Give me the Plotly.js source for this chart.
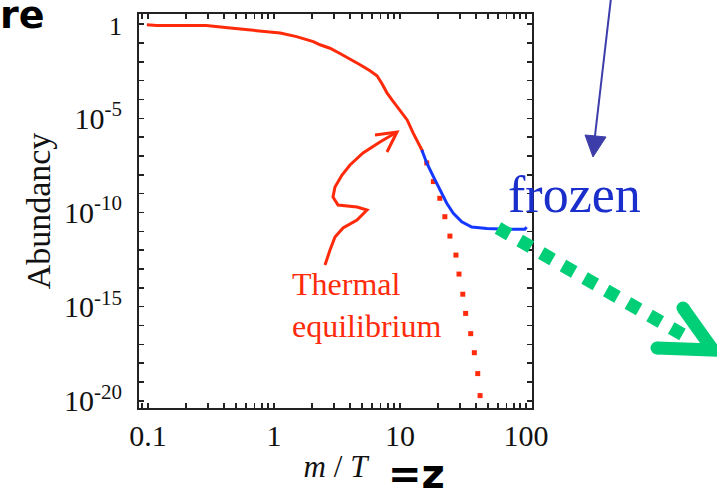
<!DOCTYPE html>
<html>
<head>
<meta charset="utf-8">
<script src="https://cdn.plot.ly/plotly-3.0.1.min.js"></script>
<style>html,body{margin:0;padding:0;background:#fff;}#chart{width:717px;height:488px;}</style>
</head>
<body>
<div id="chart"></div>
<script>
// ---- data ----
const eqX = [0.098, 0.117, 0.18, 0.29, 0.45, 0.73, 1.12, 1.51, 2.05, 2.32, 2.78, 3.34, 4.01, 4.82, 5.78, 6.57, 7.20, 7.88, 8.64, 9.47, 10.4, 11.4, 12.7, 14.4, 15.2];
const eqY = [0.94, 0.86, 0.86, 0.86, 0.63, 0.45, 0.34, 0.22, 0.12, 0.081, 0.053, 0.028, 0.0146, 7.05e-3, 3.37e-3, 1.82e-3, 6.84e-4, 2.27e-4, 9.6e-5, 4.1e-5, 1.85e-5, 8.3e-6, 1.69e-6, 3.05e-7, 1.65e-7];

const frozenX = [14.9, 16.3, 18.4, 20.7, 23.5, 26.5, 30.9, 37.1, 48.8, 70.3, 98, 101];
const frozenY = [2.1e-7, 4.3e-8, 8.0e-9, 1.6e-9, 3.1e-10, 9.1e-11, 3.2e-11, 1.7e-11, 1.4e-11, 1.3e-11, 1.3e-11, 1.7e-11];

const dotX = [16.3, 18.4, 20.7, 22.7, 24.9, 27.8, 29.4, 31.5, 33.2, 36.4, 38.9, 41.4, 43.2];
const dotY = [4.3e-8, 4.4e-9, 5.7e-10, 6.0e-11, 5.6e-12, 5.5e-13, 5.4e-14, 4.6e-15, 4.4e-16, 3.7e-17, 3.6e-18, 2.8e-19, 1.9e-20];

const xMajor = [0.1, 1, 10, 100];
const xMajorLabels = ["0.1", "1", "10", "100"];
const yMajor = [1, 1e-5, 1e-10, 1e-15, 1e-20];
const yMajorLabels = ['<span style="font-size:26px">1</span>', "10<sup>-5</sup>", "10<sup>-10</sup>", "10<sup>-15</sup>", "10<sup>-20</sup>"];
const yMinorExponents = [-1, -2, -3, -4, -6, -7, -8, -9, -11, -12, -13, -14, -16, -17, -18, -19];

// ---- minor ticks ----
const xMinorVals = [0.09];
xMajor.forEach(m => { if (m < 100) for (let k = 2; k <= 9; k++) xMinorVals.push(m * k); });
const yMinorVals = yMinorExponents.map(e => Math.pow(10, e));

// ---- pixel -> paper helpers for hand-drawn decorations ----
const L = 139, R = 532, T = 14, B = 408;
const px = x => (x - L) / (R - L);
const py = y => (B - y) / (B - T);
const pathOf = pts => pts.map((p, i) => (i ? "L" : "M") + px(p[0]).toFixed(4) + "," + py(p[1]).toFixed(4)).join(" ");

const redArrow = [[325,265],[330,250],[335,237],[343,228],[357,220],[367,210],[357,207],[338,205],[333,197],[335,187],[342,175],[350,165],[363,153],[380,142],[397,132]];
const redHead = [[375,135],[397,132],[387,152]];

const traces = [
  {x: dotX, y: dotY, mode: "markers", type: "scatter",
   marker: {symbol: "square", size: 5, color: "#ff2a0a"}, hoverinfo: "skip"},
  {x: eqX, y: eqY, mode: "lines", type: "scatter",
   line: {color: "#ff2a0a", width: 3}, hoverinfo: "skip"},
  {x: frozenX, y: frozenY, mode: "lines", type: "scatter",
   line: {color: "#1438ff", width: 3}, hoverinfo: "skip"}
];

const serif = "Liberation Serif, Times New Roman, serif";
const axisCommon = {
  showline: true, linecolor: "#222", linewidth: 2, mirror: "allticks",
  ticks: "inside", ticklen: 5, tickwidth: 1.5, tickcolor: "#222",
  showgrid: false, zeroline: false, tickmode: "array", tickangle: 0
};

const layout = {
  width: 717, height: 488,
  margin: {l: L, r: 717 - R, t: T, b: 488 - B},
  paper_bgcolor: "#fff", plot_bgcolor: "#fff",
  showlegend: false,
  xaxis: Object.assign({}, axisCommon, {
    type: "log", range: [-1.0714, 2.0476],
    tickvals: xMajor, ticktext: xMajorLabels,
    minor: {tickmode: "array", tickvals: xMinorVals, ticks: "inside", ticklen: 5, tickwidth: 1.5, tickcolor: "#222", showgrid: false},
    tickfont: {family: serif, size: 30, color: "#111"},
    ticklabelstandoff: 0,
    title: {text: "<i>m</i> / <i>T</i>", font: {family: serif, size: 31, color: "#111"}, standoff: 4}
  }),
  yaxis: Object.assign({}, axisCommon, {
    type: "log", range: [-20.38, 0.543],
    tickvals: yMajor, ticktext: yMajorLabels,
    minor: {tickmode: "array", tickvals: yMinorVals, ticks: "inside", ticklen: 5, tickwidth: 1.5, tickcolor: "#222", showgrid: false},
    tickfont: {family: serif, size: 30, color: "#111"},
    ticklabelstandoff: 9,
    title: {text: "Abundancy", font: {family: serif, size: 34, color: "#111"}, standoff: 3}
  }),
  shapes: [
    {type: "path", xref: "paper", yref: "paper", path: pathOf(redArrow), line: {color: "#ff2a0a", width: 3}},
    {type: "path", xref: "paper", yref: "paper", path: pathOf(redHead), line: {color: "#ff2a0a", width: 3}},
    {type: "line", xref: "paper", yref: "paper", x0: px(611), y0: py(-2), x1: px(594.5), y1: py(140), line: {color: "#3d3daa", width: 2}},
    {type: "path", xref: "paper", yref: "paper", path: pathOf([[585,135],[606,137],[593,157]]) + " Z", fillcolor: "#3d3daa", line: {color: "#3d3daa", width: 1}},
    {type: "line", xref: "paper", yref: "paper", x0: px(498), y0: py(228), x1: px(692), y1: py(340), line: {color: "#00cf78", width: 13, dash: "13px,12px"}},
    {type: "path", xref: "paper", yref: "paper", path: pathOf([[683,308],[713,350],[657,348]]), line: {color: "#00cf78", width: 13}},
    {type: "circle", xref: "paper", yref: "paper", x0: px(676.5), x1: px(689.5), y0: py(301.5), y1: py(314.5), fillcolor: "#00cf78", line: {width: 0}},
    {type: "circle", xref: "paper", yref: "paper", x0: px(650.5), x1: px(663.5), y0: py(341.5), y1: py(354.5), fillcolor: "#00cf78", line: {width: 0}}
  ],
  annotations: [
    {xref: "paper", yref: "paper", x: px(574.5), y: py(194.5), xanchor: "center", yanchor: "middle",
     text: "frozen", showarrow: false, font: {family: serif, size: 52, color: "#1a2ecc"}},
    {xref: "paper", yref: "paper", x: px(290), y: py(305), xanchor: "left", yanchor: "middle", align: "left",
     text: "Thermal<br>equilibrium", showarrow: false, font: {family: serif, size: 32, color: "#ff2a0a"}},
    {xref: "paper", yref: "paper", x: px(-2), y: py(15), xanchor: "left", yanchor: "middle",
     text: "<b>re</b>", showarrow: false, font: {family: "DejaVu Sans, sans-serif", size: 38, color: "#000"}},
    {xref: "paper", yref: "paper", x: px(416), y: py(474), xanchor: "center", yanchor: "middle",
     text: "<b>=z</b>", showarrow: false, font: {family: "DejaVu Sans, sans-serif", size: 40, color: "#000"}}
  ]
};

Plotly.newPlot("chart", traces, layout, {staticPlot: true, displayModeBar: false});
</script>
</body>
</html>
